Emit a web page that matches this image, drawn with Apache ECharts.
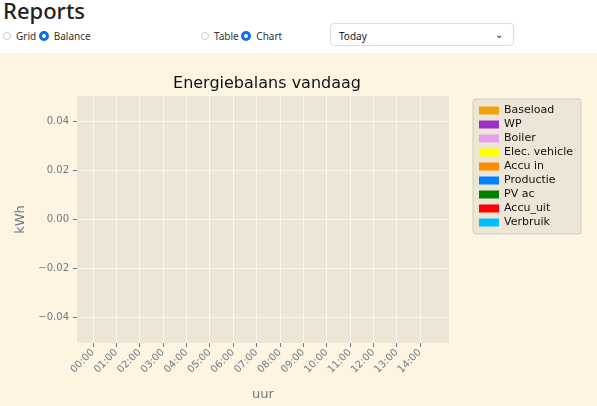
<!DOCTYPE html>
<html><head><meta charset="utf-8">
<script src="https://cdn.jsdelivr.net/npm/echarts@6/dist/echarts.min.js"></script>
<style>
body{margin:0;width:597px;height:406px;background:#fff;font-family:"Noto Sans",sans-serif;overflow:hidden;position:relative}
#h{position:absolute;left:3px;top:-5px;font-size:22px;color:#222;font-weight:500}
.r{position:absolute;top:29px;font-size:10px;color:#333;display:flex;align-items:center}
.c{display:inline-block;width:8px;height:8px;border-radius:50%;border:1px solid #ccc;margin-right:5px;box-sizing:border-box}
.on{border:3px solid #0a6ef0;width:10px;height:10px}
#sel{position:absolute;left:330px;top:23px;width:184px;height:23px;border:1px solid #ddd;border-radius:4px;font-size:10px;color:#222;box-sizing:border-box;padding:5px 8px}
#chart{position:absolute;left:0;top:53px;width:597px;height:353px}
</style></head><body>
<div id="h">Reports</div>
<div class="r" style="left:3px"><span class="c"></span>Grid&nbsp;<span class="c on"></span>Balance</div>
<div class="r" style="left:201px"><span class="c"></span>Table&nbsp;<span class="c on"></span>Chart</div>
<div id="sel">Today<span style="position:absolute;right:10px;top:3px;font-size:10px">&#8964;</span></div>
<div id="chart"></div>
<script>
const hours=["00:00","01:00","02:00","03:00","04:00","05:00","06:00","07:00","08:00","09:00","10:00","11:00","12:00","13:00","14:00"];
const seriesNames=["Baseload","WP","Boiler","Elec. vehicle","Accu in","Productie","PV ac","Accu_uit","Verbruik"];
const seriesColors=["#f0a30a","#9b30c8","#e6a0ee","#ffff00","#ff8c00","#0080ff","#008000","#ff0000","#00bfff"];
const values=[[],[],[],[],[],[],[],[],[]];
const yTicks=[-0.04,-0.02,0,0.02,0.04];
const xIdx=hours.map((h,i)=>i);
const c=echarts.init(document.getElementById('chart'));
c.setOption({
 backgroundColor:'#fdf5e2',
 title:{text:'Energiebalans vandaag',left:262,textAlign:'center',top:18,textStyle:{fontWeight:'normal',fontSize:16,color:'#111',fontFamily:'DejaVu Sans'}},
 legend:{orient:'vertical',left:473,top:46,itemWidth:20,itemHeight:8,itemGap:3,icon:'rect',padding:[6,8,6,6],
  backgroundColor:'#ede6d6',borderColor:'#ccc',borderWidth:1,borderRadius:3,
  textStyle:{fontSize:11,color:'#111',fontFamily:'DejaVu Sans'},data:seriesNames},
 grid:{left:77,top:43,width:372,height:256,backgroundColor:'#ede6d6',show:true,borderWidth:0},
 xAxis:{type:'value',min:-0.68,max:15.24,name:'uur',nameLocation:'middle',nameGap:45,position:'bottom',
  nameTextStyle:{fontSize:13,color:'#6b7a88',fontFamily:'DejaVu Sans'},
  axisLine:{show:false,onZero:false},axisTick:{customValues:xIdx,length:4,lineStyle:{color:'#6b7a88'}},
  axisLabel:{customValues:xIdx,rotate:45,fontSize:10,color:'#6b7a88',formatter:v=>hours[Math.round(v)],fontFamily:'DejaVu Sans'},
  splitLine:{show:true,lineStyle:{color:'#fbf7ee',width:1}}},
 yAxis:{type:'value',min:-0.0505,max:0.0505,name:'kWh',nameLocation:'middle',nameGap:44,position:'left',
  nameTextStyle:{fontSize:13,color:'#6b7a88',fontFamily:'DejaVu Sans'},
  axisLine:{show:false,onZero:false},axisTick:{show:true,customValues:yTicks,length:4,lineStyle:{color:'#6b7a88'}},
  axisLabel:{customValues:yTicks,fontSize:10,color:'#6b7a88',formatter:v=>(v<0?'\u2212':'')+Math.abs(v).toFixed(2),fontFamily:'DejaVu Sans'},
  splitLine:{show:true,lineStyle:{color:'#fbf7ee',width:1}}},
 series:seriesNames.map((n,i)=>({name:n,type:'bar',stack:'a',color:seriesColors[i],data:values[i]}))
});
</script></body></html>
